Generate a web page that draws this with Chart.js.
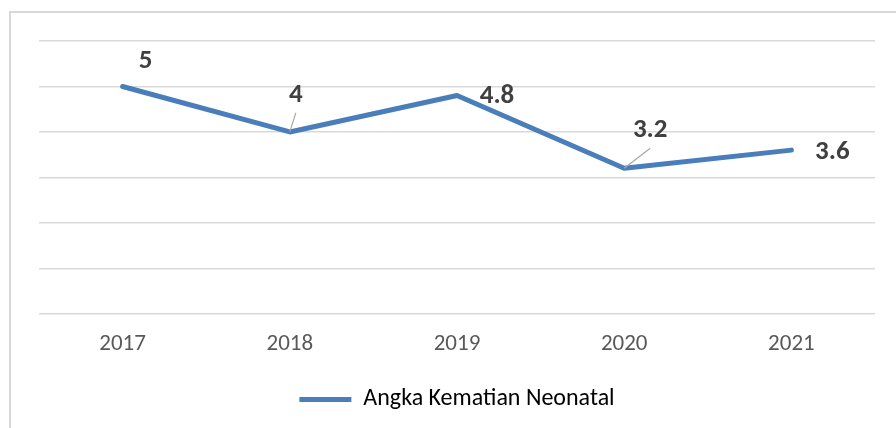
<!DOCTYPE html>
<html>
<head>
<meta charset="utf-8">
<script src="https://cdn.jsdelivr.net/npm/chart.js@4.4.1/dist/chart.umd.min.js"></script>
<style>
  html, body { margin: 0; padding: 0; background: #fff; }
  #wrap { position: relative; width: 896px; height: 428px; }
  #frame { position: absolute; left: 9px; top: 11px; right: -2px; bottom: -2px;
           border-left: 2px solid #d9d9d9; border-top: 2px solid #d9d9d9; }
  canvas { position: absolute; left: 0; top: 0; }
</style>
</head>
<body>
<div id="wrap">
  <div id="frame"></div>
  <canvas id="chart" width="896" height="428"></canvas>
</div>
<script>
  // values
  const years = ['2017', '2018', '2019', '2020', '2021'];
  const neonatal = [5, 4, 4.8, 3.2, 3.6];
  const seriesName = 'Angka Kematian Neonatal';

  // where each value label sits relative to its point (px), and whether it has a leader line
  const labelOffsets = [[23, -25], [6, -37], [40, 1], [26, -38], [41, 2]];
  const hasLeader = [false, true, false, true, false];

  const fontFamily = 'Calibri, Carlito, "Liberation Sans", Arial, sans-serif';

  const valueLabels = {
    id: 'valueLabels',
    afterDatasetsDraw(chart) {
      const ctx = chart.ctx;
      const meta = chart.getDatasetMeta(0);
      ctx.save();
      ctx.font = 'bold 27px ' + fontFamily;
      ctx.fillStyle = '#404040';
      ctx.textAlign = 'center';
      ctx.textBaseline = 'middle';
      meta.data.forEach((pt, i) => {
        const lx = pt.x + labelOffsets[i][0];
        const ly = pt.y + labelOffsets[i][1];
        if (hasLeader[i]) {
          ctx.strokeStyle = '#a6a6a6';
          ctx.lineWidth = 1.2;
          ctx.beginPath();
          ctx.moveTo(pt.x, pt.y);
          ctx.lineTo(lx, ly + 18);
          ctx.stroke();
        }
        ctx.fillText(String(neonatal[i]), lx, ly);
      });
      ctx.restore();
    }
  };

  const chart = new Chart(document.getElementById('chart').getContext('2d'), {
    type: 'line',
    data: {
      labels: years,
      datasets: [{
        label: seriesName,
        data: neonatal,
        borderColor: '#4a7ebb',
        backgroundColor: '#4a7ebb',
        borderWidth: 5,
        borderCapStyle: 'round',
        borderJoinStyle: 'round',
        pointRadius: 0,
        tension: 0
      }]
    },
    options: {
      responsive: false,
      animation: false,
      layout: { padding: { left: 39, right: 21, top: 41, bottom: 6.6 } },
      plugins: {
        tooltip: { enabled: false },
        legend: {
          position: 'bottom',
          labels: {
            boxWidth: 52,
            boxHeight: 5,
            color: '#595959',
            font: { family: fontFamily, size: 24 },
            generateLabels(c) {
              return [{
                text: seriesName,
                fillStyle: '#4a7ebb',
                strokeStyle: '#4a7ebb',
                lineWidth: 0,
                hidden: false,
                datasetIndex: 0
              }];
            }
          }
        }
      },
      scales: {
        x: {
          offset: true,
          grid: { display: false },
          border: { display: false },
          ticks: {
            color: '#595959',
            font: { family: fontFamily, size: 23 },
            padding: 9,
            maxRotation: 0
          },
          afterFit(scale) { scale.height = 63.6; }
        },
        y: {
          min: 0,
          max: 6,
          ticks: { stepSize: 1, display: false },
          grid: { color: '#d9d9d9', lineWidth: 1.5, drawTicks: false },
          border: { display: false }
        }
      }
    },
    plugins: [valueLabels]
  });
</script>
</body>
</html>
